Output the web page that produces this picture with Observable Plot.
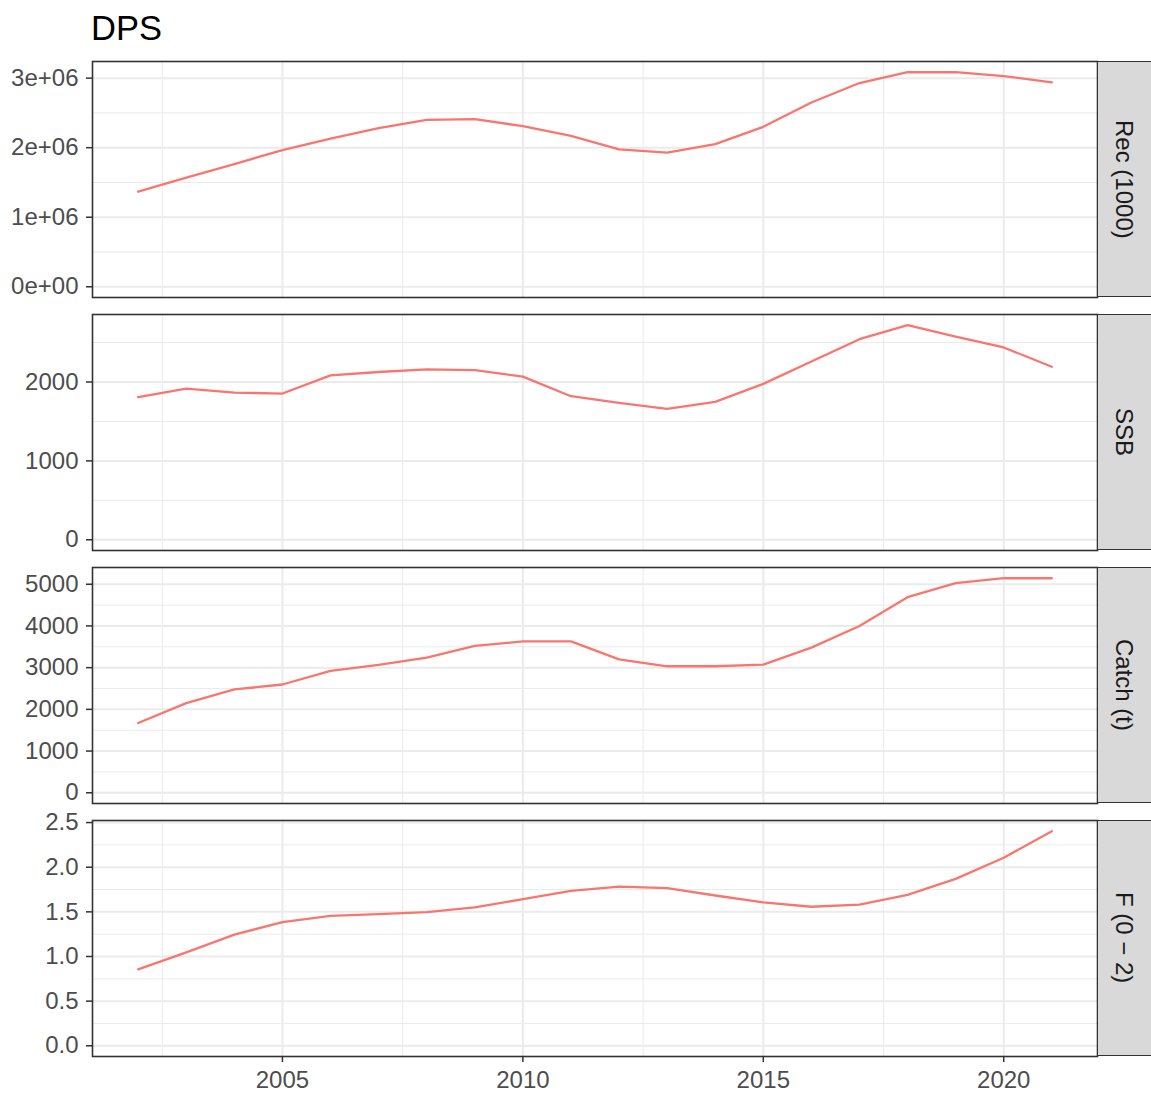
<!DOCTYPE html>
<html>
<head>
<meta charset="utf-8">
<script src="https://cdn.jsdelivr.net/npm/d3@7"></script>
<script src="https://cdn.jsdelivr.net/npm/@observablehq/plot@0.6"></script>
<style>
  html, body { margin: 0; padding: 0; background: #ffffff; }
  #chart { position: relative; width: 1151px; height: 1093px; overflow: hidden; background: #ffffff;
           font-family: "Liberation Sans", Arial, Helvetica, sans-serif; }
  #title { position: absolute; left: 91px; top: 11px; font-size: 34.5px; line-height: 34.5px; color: #000; }
  .panel { position: absolute; left: 0; }
  .strip { position: absolute; left: 1097px; width: 56px; background: #D9D9D9;
           border: 1.5px solid #333333; box-sizing: border-box; display: flex;
           align-items: center; justify-content: center; }
  .strip span { writing-mode: vertical-rl; font-size: 24px; color: #1A1A1A; white-space: nowrap; margin-right: 3px; }
</style>
</head>
<body>
<div id="chart"><div id="title">DPS</div></div>
<script>
// ---- data ----
const years = [2002,2003,2004,2005,2006,2007,2008,2009,2010,2011,2012,2013,2014,2015,2016,2017,2018,2019,2020,2021];
const recValues = [1367000,1568000,1765000,1966000,2130000,2280000,2400000,2410000,2310000,2170000,1975000,1930000,2050000,2300000,2650000,2930000,3085000,3085000,3030000,2940000];
const ssbValues = [1807,1917,1866,1854,2085,2127,2160,2152,2068,1820,1736,1660,1749,1976,2261,2543,2720,2577,2438,2194];
const catchValues = [1672,2150,2477,2596,2923,3066,3241,3520,3630,3630,3200,3033,3033,3074,3480,3998,4690,5025,5144,5144];
const fValues = [0.855,1.047,1.245,1.386,1.456,1.475,1.497,1.549,1.642,1.735,1.783,1.765,1.683,1.605,1.557,1.582,1.690,1.869,2.106,2.403];

const panelLabels = ["Rec (1000)", "SSB", "Catch (t)", "F (0 \u2212 2)"];

const xMajorTicks = [2005, 2010, 2015, 2020];
const xMinorTicks = [2002.5, 2007.5, 2012.5, 2017.5];
const xTickLabels = ["2005", "2010", "2015", "2020"];

const recTicks = [0, 1e6, 2e6, 3e6];
const recMinor = [0.5e6, 1.5e6, 2.5e6];
const recTickLabels = ["0e+00", "1e+06", "2e+06", "3e+06"];

const ssbTicks = [0, 1000, 2000];
const ssbMinor = [500, 1500, 2500];
const ssbTickLabels = ["0", "1000", "2000"];

const catchTicks = [0, 1000, 2000, 3000, 4000, 5000];
const catchMinor = [500, 1500, 2500, 3500, 4500];
const catchTickLabels = ["0", "1000", "2000", "3000", "4000", "5000"];

const fTicks = [0, 0.5, 1, 1.5, 2, 2.5];
const fMinor = [0.25, 0.75, 1.25, 1.75, 2.25];
const fTickLabels = ["0.0", "0.5", "1.0", "1.5", "2.0", "2.5"];

// ---- build ----
const panels = [
  {values: recValues, ticks: recTicks, minor: recMinor, labels: recTickLabels},
  {values: ssbValues, ticks: ssbTicks, minor: ssbMinor, labels: ssbTickLabels},
  {values: catchValues, ticks: catchTicks, minor: catchMinor, labels: catchTickLabels},
  {values: fValues, ticks: fTicks, minor: fMinor, labels: fTickLabels}
];

const chart = document.getElementById("chart");
const panelH = 236, gap = 17, top0 = 61, xAxisH = 37;
const xMin = d3.min(years), xMax = d3.max(years);
const xPad = (xMax - xMin) * 0.05;
const xDomain = [xMin - xPad, xMax + xPad];

panels.forEach((p, i) => {
  const isLast = i === panels.length - 1;
  const data = years.map((y, k) => ({year: y, value: p.values[k]}));
  const maxV = d3.max(p.values);
  const yDomain = [-0.05 * maxV, 1.05 * maxV];
  const labelMap = new Map(p.ticks.map((t, k) => [t, p.labels[k]]));
  const xLabelMap = new Map(xMajorTicks.map((t, k) => [t, xTickLabels[k]]));
  const marks = [
    Plot.gridY(p.minor, {stroke: "#EBEBEB", strokeOpacity: 1, strokeWidth: 1}),
    Plot.gridX(xMinorTicks, {stroke: "#EBEBEB", strokeOpacity: 1, strokeWidth: 1}),
    Plot.gridY(p.ticks, {stroke: "#EBEBEB", strokeOpacity: 1, strokeWidth: 2}),
    Plot.gridX(xMajorTicks, {stroke: "#EBEBEB", strokeOpacity: 1, strokeWidth: 2}),
    Plot.line(data, {x: "year", y: "value", stroke: "#F8766D", strokeWidth: 2.3}),
    Plot.frame({stroke: "#333333", strokeWidth: 1.6}),
    Plot.axisY(p.ticks, {tickSize: 6, tickPadding: 8, stroke: "#333333", strokeWidth: 1.5, fill: "#4D4D4D",
      tickFormat: d => labelMap.get(d), label: null, fontSize: 24})
  ];
  if (isLast) {
    marks.push(Plot.axisX(xMajorTicks, {tickSize: 6, tickPadding: 8, stroke: "#333333", strokeWidth: 1.5, fill: "#4D4D4D",
      tickFormat: d => xLabelMap.get(d), label: null, fontSize: 24}));
  }
  const plot = Plot.plot({
    width: 1151,
    height: panelH + (isLast ? xAxisH : 0),
    marginLeft: 92, marginRight: 54, marginTop: 0, marginBottom: isLast ? xAxisH : 0,
    x: {domain: xDomain, ...(isLast ? {} : {axis: null})},
    y: {domain: yDomain, label: null},
    style: {fontFamily: '"Liberation Sans", Arial, sans-serif', fontSize: "24px", color: "#4D4D4D", background: "transparent", overflow: "visible"},
    marks
  });
  const top = top0 + i * (panelH + gap);
  plot.classList.add("panel");
  plot.style.top = top + "px";
  chart.appendChild(plot);

  const strip = document.createElement("div");
  strip.className = "strip";
  strip.style.top = top + "px";
  strip.style.height = panelH + "px";
  const span = document.createElement("span");
  span.textContent = panelLabels[i];
  strip.appendChild(span);
  chart.appendChild(strip);
});
</script>
</body>
</html>
